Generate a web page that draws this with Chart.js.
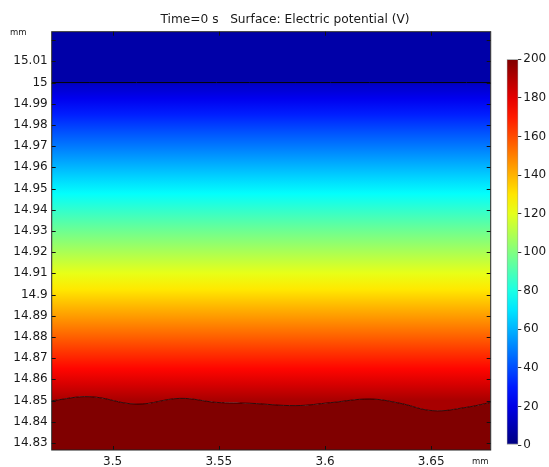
<!DOCTYPE html>
<html>
<head>
<meta charset="utf-8">
<script src="https://cdn.jsdelivr.net/npm/chart.js@4.4.1/dist/chart.umd.min.js"></script>
<style>
  html, body { margin: 0; padding: 0; background: #fff; }
  #wrap { position: relative; width: 549px; height: 467px; }
  #field { position: absolute; left: 0; top: 0; }
  #cbar { position: absolute; left: 497px; top: 0; }
</style>
</head>
<body>
<div id="wrap">
  <canvas id="field" width="549" height="467"></canvas>
  <canvas id="cbar" width="52" height="467"></canvas>
</div>
<script>
// axis limits (mm)
var xRange = [3.4713, 3.6780];
var yRange = [14.82665, 15.0240];

var xTicks = [3.5, 3.55, 3.6, 3.65];
var xLabels = ['3.5', '3.55', '3.6', '3.65'];
var yTicks = [14.83, 14.84, 14.85, 14.86, 14.87, 14.88, 14.89, 14.9, 14.91, 14.92,
              14.93, 14.94, 14.95, 14.96, 14.97, 14.98, 14.99, 15, 15.01, 15.02];
var yLabels = ['14.83', '14.84', '14.85', '14.86', '14.87', '14.88', '14.89', '14.9', '14.91', '14.92',
               '14.93', '14.94', '14.95', '14.96', '14.97', '14.98', '14.99', '15', '15.01', ''];

// electrode surface (top) and wavy boundary (bottom)
var electrodeY = 15.0;
var waveX = [3.4713, 3.4893, 3.5113, 3.5317, 3.5490, 3.5646, 3.5863, 3.6027, 3.6211, 3.6353, 3.6508, 3.6667, 3.6780];
var waveY = [14.8499, 14.8518, 14.8483, 14.8510, 14.8491, 14.8487, 14.8476, 14.8490, 14.8507, 14.8487, 14.8452, 14.8468, 14.8491];

// electric potential (V)
var fieldY = [15.0, 14.85];
var fieldV = [13, 192];
var upperV = 8;
var lowerV = 200;

var cbarTicks = [0, 20, 40, 60, 80, 100, 120, 140, 160, 180, 200];
var vMax = 200;

Chart.defaults.font.family = 'DejaVu Sans';
Chart.defaults.color = '#1a1a1a';

function jet(t) {
  t = Math.max(0, Math.min(1, t));
  function c(v) { return Math.round(255 * Math.max(0, Math.min(1, v))); }
  var r = c(1.5 - Math.abs(4 * t - 3));
  var g = c(1.5 - Math.abs(4 * t - 2));
  var b = c(1.5 - Math.abs(4 * t - 1));
  return 'rgb(' + r + ',' + g + ',' + b + ')';
}

function fieldGradient(ctx) {
  var chart = ctx.chart;
  if (!chart.chartArea) return jet(fieldV[0] / vMax);
  var y = chart.scales.y;
  var g = chart.ctx.createLinearGradient(0, y.getPixelForValue(fieldY[0]), 0, y.getPixelForValue(fieldY[1]));
  for (var i = 0; i <= 20; i++) {
    var v = fieldV[0] + (fieldV[1] - fieldV[0]) * i / 20;
    g.addColorStop(i / 20, jet(v / vMax));
  }
  return g;
}

function barGradient(ctx) {
  var chart = ctx.chart;
  if (!chart.chartArea) return jet(0.5);
  var y = chart.scales.y;
  var g = chart.ctx.createLinearGradient(0, y.getPixelForValue(0), 0, y.getPixelForValue(vMax));
  for (var i = 0; i <= 20; i++) {
    g.addColorStop(i / 20, jet(i / 20));
  }
  return g;
}

var wavePts = waveX.map(function (x, i) { return {x: x, y: waveY[i]}; });
var electrodePts = waveX.map(function (x) { return {x: x, y: electrodeY}; });

var framePlugin = {
  id: 'frame',
  afterDraw: function (chart) {
    var ctx = chart.ctx, a = chart.chartArea;
    var sx = chart.scales.x, sy = chart.scales.y;
    ctx.save();
    ctx.strokeStyle = '#111';
    ctx.lineWidth = 1;
    ctx.beginPath();
    xTicks.forEach(function (v) {
      var px = Math.round(sx.getPixelForValue(v)) + 0.5;
      ctx.moveTo(px, a.bottom); ctx.lineTo(px, a.bottom - 4);
      ctx.moveTo(px, a.top); ctx.lineTo(px, a.top + 4);
    });
    yTicks.forEach(function (v) {
      var py = Math.round(sy.getPixelForValue(v)) + 0.5;
      ctx.moveTo(a.left, py); ctx.lineTo(a.left + 4, py);
      ctx.moveTo(a.right, py); ctx.lineTo(a.right - 4, py);
    });
    ctx.stroke();
    ctx.strokeStyle = '#222';
    ctx.strokeRect(a.left, a.top, a.width, a.height);

    ctx.fillStyle = '#1a1a1a';
    ctx.textBaseline = 'middle';
    ctx.textAlign = 'center';
    ctx.font = '12.2px "DejaVu Sans"';
    ctx.fillText('Time=0 s   Surface: Electric potential (V)', 285, 20);
    ctx.font = '8.5px "DejaVu Sans"';
    ctx.textAlign = 'left';
    ctx.fillText('mm', 10, 33);
    ctx.fillText('mm', 472, 462);
    ctx.restore();
  }
};

new Chart(document.getElementById('field'), {
  type: 'scatter',
  data: {
    datasets: [
      { data: wavePts, showLine: true, tension: 0.4, pointRadius: 0, borderColor: 'rgba(25,0,0,0.85)',
        borderWidth: 1, fill: false },
      { data: electrodePts, showLine: true, pointRadius: 0, borderColor: '#000', borderWidth: 1,
        fill: 'end', backgroundColor: jet(upperV / vMax) },
      { data: electrodePts, showLine: true, pointRadius: 0, borderWidth: 0, borderColor: 'rgba(0,0,0,0)',
        fill: '+1', backgroundColor: fieldGradient },
      { data: wavePts, showLine: true, tension: 0.4, pointRadius: 0, borderWidth: 0, borderColor: 'rgba(0,0,0,0)',
        fill: 'start', backgroundColor: jet(lowerV / vMax) }
    ]
  },
  options: {
    responsive: false,
    animation: false,
    devicePixelRatio: 1,
    layout: { padding: { left: 0, right: 58.3, top: 31.7, bottom: 0 } },
    plugins: { legend: { display: false }, tooltip: { enabled: false }, title: { display: false } },
    scales: {
      x: {
        type: 'linear', min: xRange[0], max: xRange[1],
        afterBuildTicks: function (s) { s.ticks = xTicks.map(function (v) { return {value: v}; }); },
        afterFit: function (s) { s.height = 17; },
        ticks: { callback: function (v, i) { return xLabels[i]; }, font: { size: 12 }, padding: 5,
                 maxRotation: 0, autoSkip: false },
        grid: { display: false, drawTicks: false },
        border: { display: false }
      },
      y: {
        type: 'linear', min: yRange[0], max: yRange[1],
        afterBuildTicks: function (s) { s.ticks = yTicks.map(function (v) { return {value: v}; }); },
        afterFit: function (s) { s.width = 51.7; },
        ticks: { callback: function (v, i) { return yLabels[i]; }, font: { size: 12 }, padding: 4,
                 autoSkip: false },
        grid: { display: false, drawTicks: false },
        border: { display: false }
      }
    }
  },
  plugins: [framePlugin]
});

new Chart(document.getElementById('cbar'), {
  type: 'bar',
  data: {
    labels: [''],
    datasets: [{ data: [[0, vMax]], backgroundColor: barGradient, borderColor: '#999', borderWidth: 1,
                 borderSkipped: false, barPercentage: 1, categoryPercentage: 1 }]
  },
  options: {
    responsive: false,
    animation: false,
    devicePixelRatio: 1,
    layout: { padding: { left: 9.7, right: 0, top: 59.3, bottom: 22 } },
    plugins: { legend: { display: false }, tooltip: { enabled: false } },
    scales: {
      x: { display: false },
      y: {
        position: 'right', min: 0, max: vMax,
        afterBuildTicks: function (s) { s.ticks = cbarTicks.map(function (v) { return {value: v}; }); },
        afterFit: function (s) { s.width = 30.7; },
        ticks: { callback: function (v) { return String(v); }, font: { size: 12 }, padding: 2 },
        grid: { drawOnChartArea: false, tickLength: 3, color: '#333' },
        border: { display: false }
      }
    }
  }
});
</script>
</body>
</html>
